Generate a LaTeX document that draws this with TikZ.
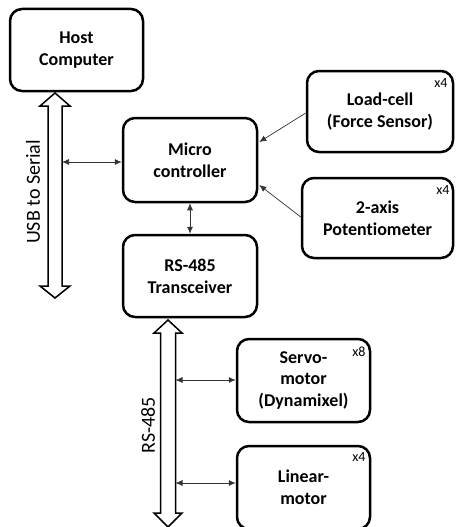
\documentclass[tikz,border=0pt]{standalone}
\usepackage{fontspec}
\setmainfont{Carlito}[Ligatures={NoCommon,NoRequired,NoContextual}]
\usetikzlibrary{arrows.meta,calc}
\begin{document}
\begin{tikzpicture}[x=1pt,y=-1pt,
  box/.style={draw=black,line width=2.5pt,rounded corners=12pt,align=center,
    font=\bfseries\fontsize{18}{21.7}\selectfont,inner sep=0pt},
  link/.style={line width=0.7pt,draw=black!80},
  tip/.style={-{Latex[length=7pt,width=6pt]}},
  tips/.style={{Latex[length=7pt,width=6pt]}-{Latex[length=7pt,width=6pt]}},
  bus/.style={draw=black,line width=1.5pt,fill=white,line join=miter},
  mult/.style={font=\fontsize{14}{16}\selectfont,inner sep=0pt},
  buslabel/.style={font=\fontsize{20}{22}\selectfont,rotate=90,inner sep=0pt}]
\useasboundingbox (0,0) rectangle (455,527);

\node[box,minimum width=133pt,minimum height=82pt] (host) at (76.5,50) {Host\\Computer};
\node[box,minimum width=134pt,minimum height=84pt] (micro) at (190,160) {Micro\\controller};
\node[box,minimum width=134pt,minimum height=82pt] (trans) at (190,276) {RS-485\\Transceiver};
\node[box,minimum width=146pt,minimum height=81pt] (load) at (380,111.5) {Load-cell\\(Force Sensor)};
\node[box,minimum width=151pt,minimum height=80pt] (pot) at (377.5,218) {2-axis\\Potentiometer};
\node[box,minimum width=133pt,minimum height=83pt] (servo) at (303.5,380.5) {Servo-\\motor\\(Dynamixel)};
\node[box,minimum width=133pt,minimum height=83pt] (linear) at (303.5,487.5) {Linear-\\motor};

\node[mult] (m1) at (441,83) {x4};
\node[mult] (m2) at (443,190) {x4};
\node[mult] (m3) at (359,352) {x8};
\node[mult] (m4) at (359,457) {x4};

% USB to Serial bus
\coordinate (usbtop) at (55,93);
\coordinate (usbbot) at (55,298);
\draw[bus] (usbtop) -- ++(15,13) -- ++(-8,0) -- ($(usbbot)+(7,-12)$) -- ++(8,0) -- (usbbot)
  -- ++(-15,-12) -- ++(8,0) -- ($(usbtop)+(-7,13)$) -- ++(-8,0) -- cycle;
\node[buslabel] (usblabel) at (33,192) {USB to Serial};

% RS-485 bus
\coordinate (rstop) at (168,320);
\coordinate (rsbot) at (168,527);
\draw[bus] (rstop) -- ++(14,13) -- ++(-6.5,0) -- ($(rsbot)+(7.5,-14)$) -- ++(6.5,0) -- (rsbot)
  -- ++(-14,-14) -- ++(6.5,0) -- ($(rstop)+(-7.5,13)$) -- ++(-6.5,0) -- cycle;
\node[buslabel] (rslabel) at (148,425) {RS-485};

% connectors
\coordinate (usbtap) at (62,162);
\draw[link,tips] (usbtap) -- (usbtap -| micro.west);
\draw[link,tips] (micro.south) -- (trans.north);
\draw[link,tip] ($(load.west)+(0,1.5)$) -- ($(micro.east)+(1,-18)$);
\draw[link,tip] ($(pot.west)+(0,-1)$) -- ($(micro.east)+(1,25)$);
\coordinate (servotap) at (175.5,380);
\coordinate (lineartap) at (175.5,483);
\draw[link,tips] (servotap) -- (servotap -| servo.west);
\draw[link,tips] (lineartap) -- (lineartap -| linear.west);
\end{tikzpicture}
\end{document}
